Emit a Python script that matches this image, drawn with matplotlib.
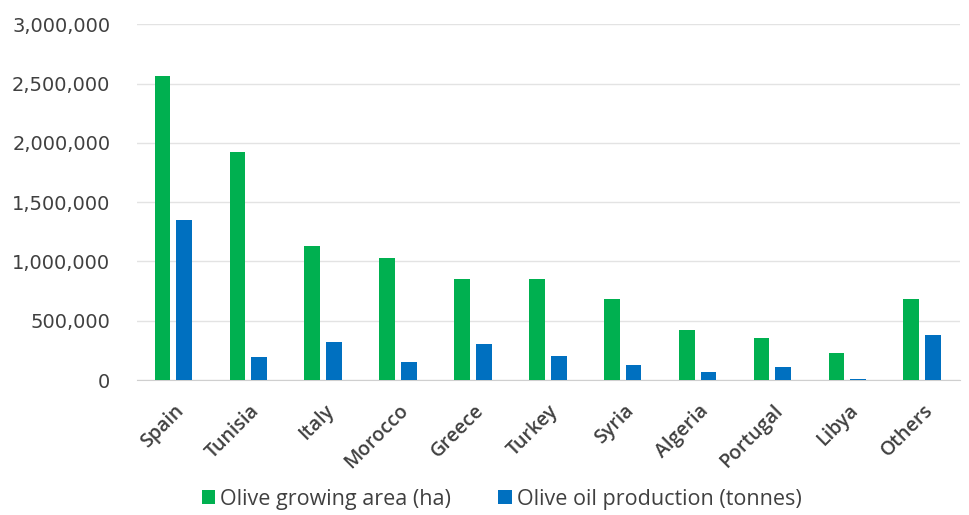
import matplotlib
matplotlib.use("Agg")
import matplotlib.pyplot as plt
import numpy as np
from matplotlib.ticker import FuncFormatter, MultipleLocator

categories = ["Spain", "Tunisia", "Italy", "Morocco", "Greece", "Turkey",
              "Syria", "Algeria", "Portugal", "Libya", "Others"]
area_ha = [2560000, 1920000, 1130000, 1030000, 850000, 850000,
           683000, 421000, 354000, 228000, 683000]
oil_tonnes = [1350000, 195000, 320000, 152000, 303000, 202000,
              126000, 67000, 110000, 8000, 380000]
series_names = ["Olive growing area (ha)", "Olive oil production (tonnes)"]

plt.rcParams['font.family'] = ['Open Sans', 'DejaVu Sans']

fig = plt.figure(figsize=(9.7, 5.15), dpi=100)
ax = fig.add_axes([0.141, 0.262, 0.849, 0.691])

x = np.arange(len(categories))
w = 0.21
ax.bar(x - 0.155, area_ha, width=w, color="#00B050", label=series_names[0], zorder=3)
ax.bar(x + 0.135, oil_tonnes, width=w, color="#0070C0", label=series_names[1], zorder=3)

ax.set_xlim(-0.5, len(categories) - 0.5)
ax.set_ylim(0, 3000000)
ax.yaxis.set_major_locator(MultipleLocator(500000))
ax.yaxis.set_major_formatter(FuncFormatter(lambda v, p: f"{int(v):,}"))
ax.grid(axis="y", color="#e3e3e3", linewidth=1, zorder=0)
for s in ["top", "right", "left"]:
    ax.spines[s].set_visible(False)
ax.spines["bottom"].set_color("#cfcfcf")
ax.tick_params(axis="both", length=0, labelcolor="#404040")
ax.tick_params(axis="y", pad=19)
for lab in ax.get_yticklabels():
    lab.set_fontfamily("DejaVu Sans")
    lab.set_fontsize(14)
ax.set_xticks(x)
ax.set_xticklabels(categories, rotation=45, ha="right", rotation_mode="anchor",
                   fontsize=14, fontweight="semibold")
ax.tick_params(axis="x", pad=15)

fig.legend(loc="center", bbox_to_anchor=(0.517, 16 / 515), ncol=2, frameon=False,
           prop={"size": 15.5}, labelcolor="#404040", handlelength=0.62,
           handleheight=0.62, handletextpad=0.23, columnspacing=2.2, borderpad=0)

fig.savefig("out.png", dpi=100)
